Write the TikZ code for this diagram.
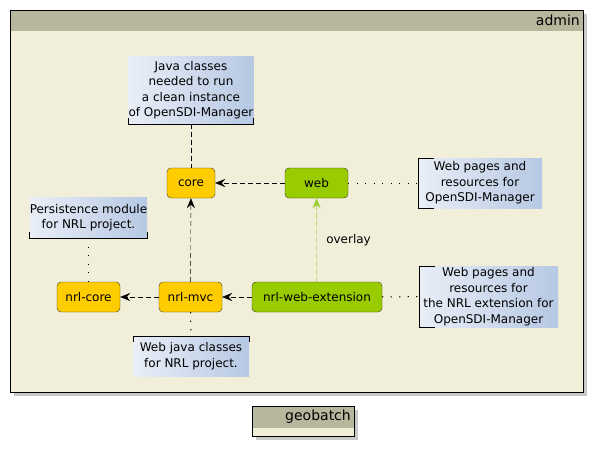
\documentclass[tikz,border=0pt]{standalone}
\usepackage{fontspec}
\setmainfont{DejaVu Sans}
\usetikzlibrary{arrows.meta,positioning}

\definecolor{pkghead}{HTML}{B7B79E}
\definecolor{pkgbody}{HTML}{F1EFD9}
\definecolor{pkgshadow}{HTML}{C9C9C9}
\definecolor{modgold}{HTML}{FFCC00}
\definecolor{modgreen}{HTML}{99CC00}
\definecolor{modline}{HTML}{3A3A1A}
\definecolor{overlaygreen}{HTML}{9ACD32}
\definecolor{notel}{HTML}{E9EEF7}
\definecolor{noter}{HTML}{B6C8E3}

\tikzset{
  module/.style={draw=modline, rounded corners=4pt, minimum height=30pt,
    inner sep=0pt, font=\fontsize{12}{14}\selectfont},
  javamod/.style={module, fill=modgold},
  webmod/.style={module, fill=modgreen},
  notebox/.style={left color=notel, right color=noter, inner sep=0pt,
    align=center, font=\fontsize{12}{15.5}\selectfont},
  dep/.style={dash pattern=on 5pt off 3pt, -{Stealth[length=10pt,width=8pt,inset=3.5pt]}},
  overlaydep/.style={dep, draw=overlaygreen, fill=overlaygreen},
  notelink/.style={dash pattern=on 5pt off 3pt},
  dotlink/.style={line width=1pt, dash pattern=on 1.2pt off 7.3pt},
  pkgtitle/.style={anchor=east, inner sep=0pt, font=\fontsize{14}{16}\selectfont}
}

\begin{document}
\begin{tikzpicture}[x=1pt,y=-1pt]
  \useasboundingbox (0,0) rectangle (598,450);

  % package admin
  \fill[pkgshadow] (14,14) rectangle (587,396);
  \fill[pkgbody] (10,10) rectangle (583,392);
  \fill[pkghead] (10,10) rectangle (583,31);
  \draw (10,10) rectangle (583,392);
  \node[pkgtitle] (admin) at (580,20.5) {admin};

  % package geobatch
  \fill[pkgshadow] (256,410) rectangle (358,440);
  \fill[pkgbody] (252,406) rectangle (354,436);
  \fill[pkghead] (252,406) rectangle (354,428);
  \draw (252,406) rectangle (354,436);
  \node[pkgtitle] (geobatch) at (351,417) {geobatch};

  % modules
  \node[javamod, minimum width=48pt]  (core)      at (191,183)   {core};
  \node[webmod,  minimum width=63pt]  (web)       at (316.5,183) {web};
  \node[javamod, minimum width=63pt]  (nrlcore)   at (88.5,297)  {nrl-core};
  \node[javamod, minimum width=63pt]  (nrlmvc)    at (190.5,297) {nrl-mvc};
  \node[webmod,  minimum width=130pt] (nrlwebext) at (317,297)   {nrl-web-extension};

  % notes
  \node[notebox, minimum width=124pt, minimum height=68pt] (notecore) at (191,90)
    {Java classes\\needed to run\\a clean instance\\of OpenSDI-Manager};
  \node[notebox, minimum width=124pt, minimum height=50pt] (noteweb) at (480,183)
    {Web pages and\\resources for\\OpenSDI-Manager};
  \node[notebox, minimum width=117pt, minimum height=41pt] (notenrlcore) at (88.5,217.5)
    {Persistence module\\for NRL project.};
  \node[notebox, minimum width=139pt, minimum height=61pt] (notenrlweb) at (488.5,296.5)
    {Web pages and\\resources for\\the NRL extension for\\OpenSDI-Manager};
  \node[notebox, minimum width=116pt, minimum height=40pt] (notenrlmvc) at (191,356)
    {Web java classes\\for NRL project.};

  % note brackets
  \draw (notecore.south west) ++(0,-6) -- (notecore.south west) -- (notecore.south east) -- ++(0,-6);
  \draw (notenrlcore.south west) ++(0,-6) -- (notenrlcore.south west) -- (notenrlcore.south east) -- ++(0,-6);
  \draw (notenrlmvc.north west) ++(0,6) -- (notenrlmvc.north west) -- (notenrlmvc.north east) -- ++(0,6);
  \draw (noteweb.north west) ++(16,0) -- (noteweb.north west) -- (noteweb.south west) -- ++(16,0);
  \draw (notenrlweb.north west) ++(16,0) -- (notenrlweb.north west) -- (notenrlweb.south west) -- ++(16,0);

  % dependencies
  \draw[dep] (web) -- (core);
  \draw[dep] (nrlmvc) -- (core);
  \draw[dep] (nrlmvc) -- (nrlcore);
  \draw[dep] (nrlwebext) -- (nrlmvc);
  \draw[overlaydep] (nrlwebext) -- (web)
    node[midway, right=6pt, fill=none, font=\fontsize{12}{14}\selectfont] (overlaylbl) {overlay};

  % note links
  \draw[notelink] (notecore) -- (core);
  \draw[dotlink] (web) -- (noteweb);
  \draw[dotlink] (notenrlcore) -- (nrlcore);
  \draw[dotlink] (nrlmvc) -- (notenrlmvc);
  \draw[dotlink] (nrlwebext) -- (notenrlweb);
\end{tikzpicture}
\end{document}
